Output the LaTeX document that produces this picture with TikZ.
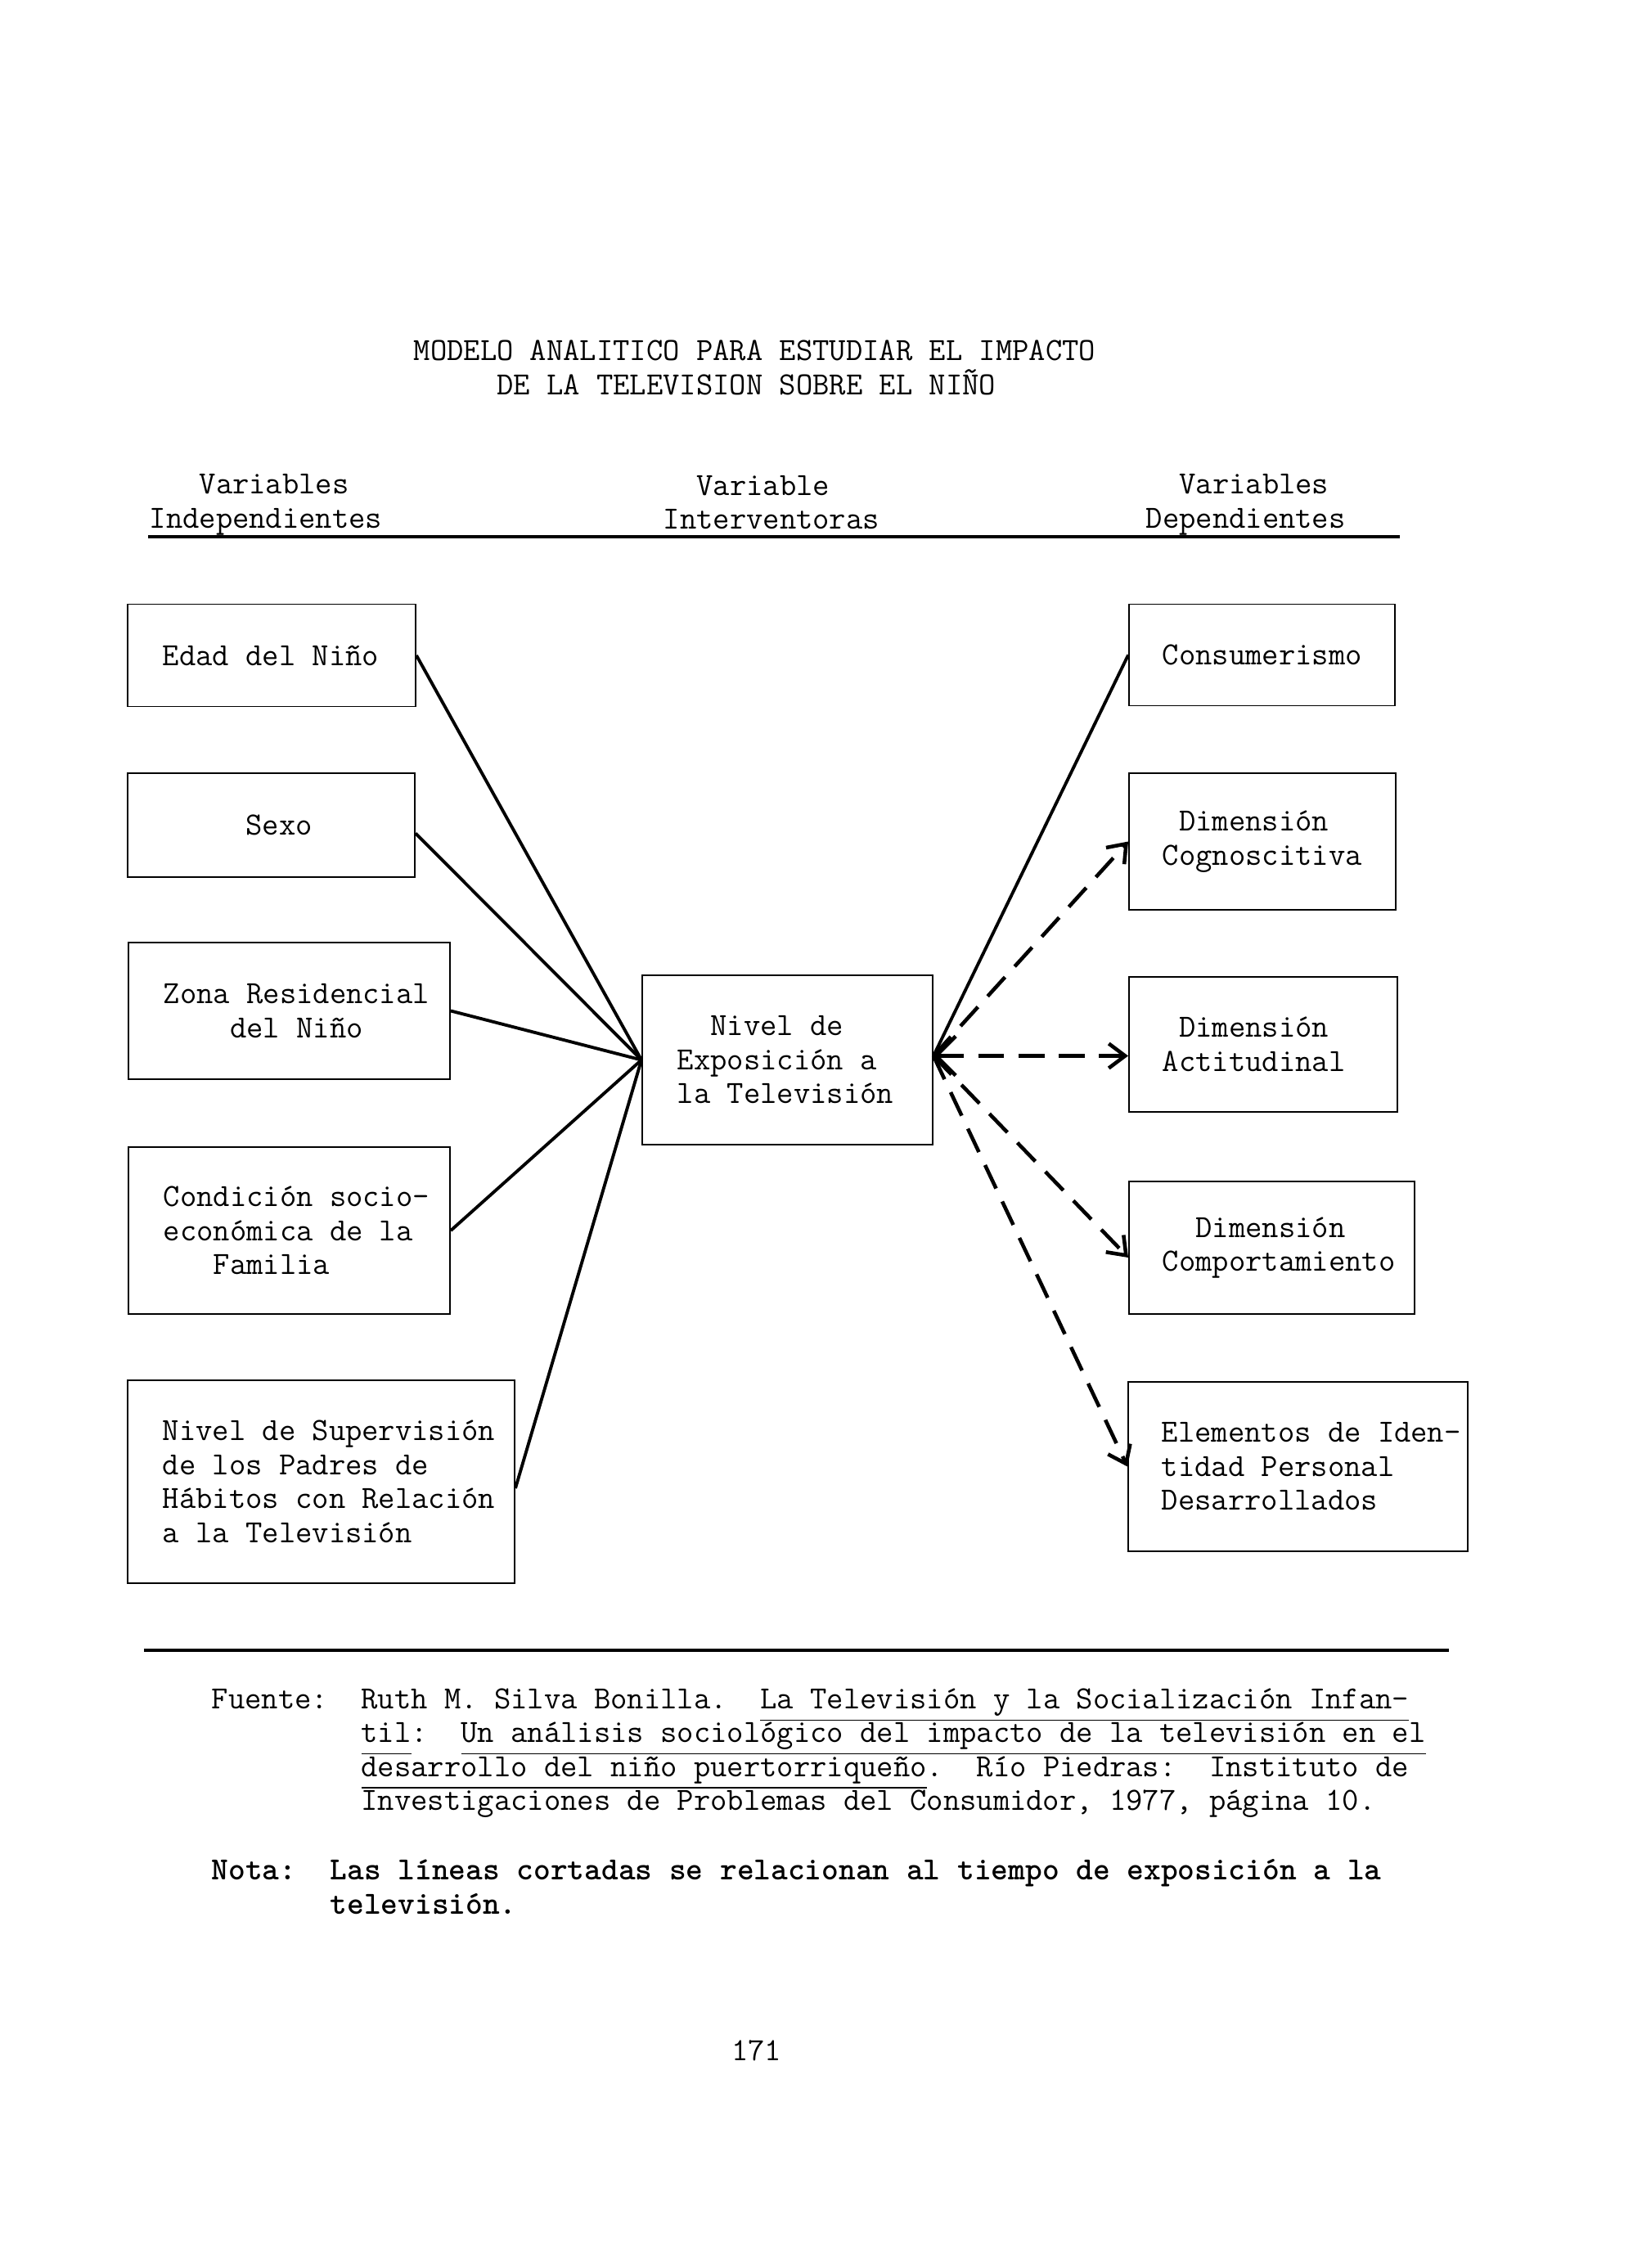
\documentclass[tikz,border=0pt]{standalone}
\usepackage{fontspec}
\usepackage{tikz}
\usetikzlibrary{arrows.meta, calc}

% typewriter look
\newcommand{\maquina}{\fontsize{11.23}{11.8}\selectfont\ttfamily\frenchspacing}
\newcommand{\subrayado}[1]{\underline{\vphantom{y}#1}}

\begin{document}
\begin{tikzpicture}[
    font=\maquina,
    caja/.style={draw, line width=0.55pt, inner sep=0pt},
    rotulo/.style={anchor=west, align=left, inner sep=0pt},
    enlace/.style={line width=1.1pt},
    corta/.style={line width=1.3pt, dash pattern=on 9pt off 5pt,
      -{Straight Barb[length=2mm, width=3mm]}},
  ]
  \fill[white] (0,0) rectangle (20.06,-27.72);
  \useasboundingbox (0,0) rectangle (20.06,-27.72);

  % Title
  \node[rotulo] (titulo) at (5.05,-4.495) {MODELO ANALITICO PARA ESTUDIAR EL IMPACTO\\\phantom{xxxxx}DE LA TELEVISION SOBRE EL NIÑO};

  % Column headings
  \node[rotulo] (indep) at (1.82,-6.17) {\phantom{xxx}Variables\\Independientes};
  \node[rotulo] (interv) at (8.10,-6.14) {\phantom{xx}Variable\\Interventoras};
  \node[rotulo] (dep) at (14.00,-6.17) {\phantom{xx}Variables\\Dependientes};
  \draw[line width=0.9pt] (1.81,-6.56) -- (17.11,-6.56);

  % Independent variables
  \node[caja, minimum width=3.52cm, minimum height=1.25cm] (edad) at (3.32,-8.01) {};
  \node[rotulo] (edad-t) at ([xshift=4.3mm]edad.west) {Edad del Niño};
  \node[caja, minimum width=3.51cm, minimum height=1.27cm] (sexo) at (3.315,-10.085) {};
  \node[rotulo] (sexo-t) at ([xshift=4.3mm]sexo.west) {\phantom{xxxxx}Sexo};
  \node[caja, minimum width=3.93cm, minimum height=1.67cm] (zona) at (3.535,-12.355) {};
  \node[rotulo] (zona-t) at ([xshift=4.3mm]zona.west) {Zona Residencial\\\phantom{xxxx}del Niño};
  \node[caja, minimum width=3.93cm, minimum height=2.04cm] (condicion) at (3.535,-15.04) {};
  \node[rotulo] (condicion-t) at ([xshift=4.3mm]condicion.west) {Condición socio-\\económica de la\\\phantom{xxx}Familia};
  \node[caja, minimum width=4.73cm, minimum height=2.48cm] (supervision) at (3.925,-18.11) {};
  \node[rotulo] (supervision-t) at ([xshift=4.3mm]supervision.west) {Nivel de Supervisión\\de los Padres de\\Hábitos con Relación\\a la Televisión};

  % Intervening variable
  \node[caja, minimum width=3.55cm, minimum height=2.07cm] (nivel) at (9.625,-12.955) {};
  \node[rotulo] (nivel-t) at ([xshift=4.3mm]nivel.west) {\phantom{xx}Nivel de\\Exposición a\\la Televisión};

  % Dependent variables
  \node[caja, minimum width=3.25cm, minimum height=1.24cm] (consumo) at (15.425,-8.005) {};
  \node[rotulo] (consumo-t) at ([xshift=4.1mm]consumo.west) {Consumerismo};
  \node[caja, minimum width=3.26cm, minimum height=1.67cm] (cognos) at (15.43,-10.285) {};
  \node[rotulo] (cognos-t) at ([xshift=4.1mm]cognos.west) {\phantom{x}Dimensión\\Cognoscitiva};
  \node[caja, minimum width=3.28cm, minimum height=1.65cm] (actitud) at (15.44,-12.763) {};
  \node[rotulo] (actitud-t) at ([xshift=4.1mm]actitud.west) {\phantom{x}Dimensión\\Actitudinal};
  \node[caja, minimum width=3.49cm, minimum height=1.62cm] (comporta) at (15.545,-15.25) {};
  \node[rotulo] (comporta-t) at ([xshift=4.1mm]comporta.west) {\phantom{xx}Dimensión\\Comportamiento};
  \node[caja, minimum width=4.15cm, minimum height=2.07cm] (identidad) at (15.865,-17.925) {};
  \node[rotulo] (identidad-t) at ([xshift=4.1mm]identidad.west) {Elementos de Iden-\\tidad Personal\\Desarrollados};

  % Solid lines into the exposure box
  \draw[enlace] (edad.east) -- (nivel.west);
  \draw[enlace] ([yshift=-1mm]sexo.east) -- (nivel.west);
  \draw[enlace] (zona.east) -- (nivel.west);
  \draw[enlace] (condicion.east) -- (nivel.west);
  \draw[enlace] ([yshift=-0.8mm]supervision.east) -- (nivel.west);

  % Lines out of the exposure box
  \coordinate (salida) at ([yshift=0.5mm]nivel.east);
  \draw[enlace] (salida) -- (consumo.west);
  \draw[corta] (salida) -- (cognos.west);
  \draw[corta, {Straight Barb[length=2.4mm, width=4.8mm]}-{Straight Barb[length=2mm, width=3mm]}] (salida) -- (salida -| actitud.west);
  \draw[corta] (salida) -- ([yshift=-1.2mm]comporta.west);
  \draw[corta] (salida) -- (identidad.west);

  % Source and note
  \draw[line width=0.9pt] (1.76,-20.17) -- (17.71,-20.17);
  \node[rotulo, anchor=north west] (fuente) at (2.58,-20.63) {Fuente:~~Ruth M. Silva Bonilla.~~\subrayado{La Televisión y la Socialización Infan-}\\
    \phantom{Fuente:~~}\subrayado{til}:~~\subrayado{Un análisis sociológico del impacto de la televisión en el}\\
    \phantom{Fuente:~~}\subrayado{desarrollo del niño puertorriqueño}.~~Río Piedras:~~Instituto de\\
    \phantom{Fuente:~~}Investigaciones de Problemas del Consumidor, 1977, página 10.};
  \node[rotulo, anchor=north west, font=\maquina\bfseries] (nota) at (2.58,-22.72) {Nota:~~Las líneas cortadas se relacionan al tiempo de exposición a la\\\phantom{Nota:~~}televisión.};

  % Page number
  \node (pagina) at (9.245,-25.06) {171};
\end{tikzpicture}
\end{document}
